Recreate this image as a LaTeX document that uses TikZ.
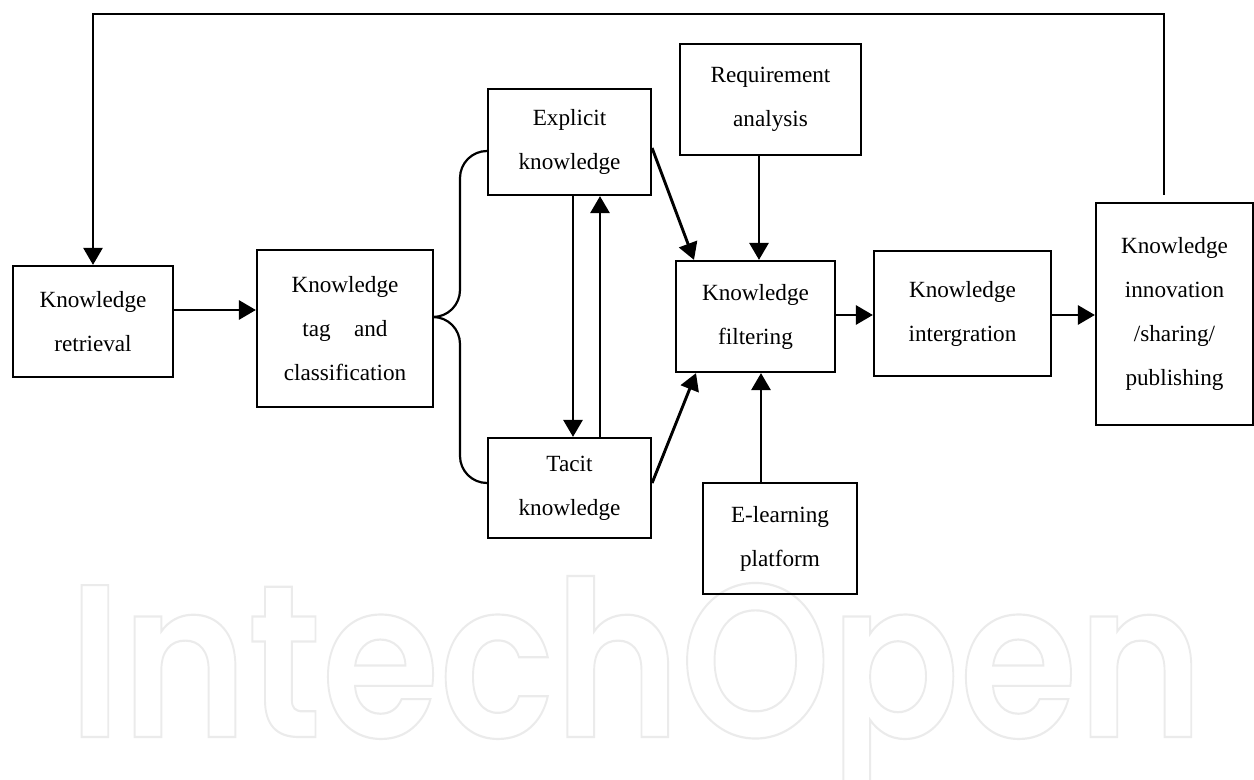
\documentclass[tikz,border=0pt]{standalone}
\usepackage{fontspec}
\setmainfont{Liberation Serif}
\IfFontExistsTF{Poppins SemiBold}
  {\newfontfamily\markfont{Poppins SemiBold}}
  {\IfFontExistsTF{Poppins Medium}
    {\newfontfamily\markfont{Poppins Medium}}
    {\newfontfamily\markfont{Poppins}}}
\usetikzlibrary{arrows.meta}

\tikzset{
  box/.style={draw, line width=1.1pt, inner sep=0pt, align=center,
    font=\fontsize{11.6}{22}\selectfont},
  arr/.style={line width=1.45pt, -{Triangle[length=8.5pt,width=9.5pt]}},
  link/.style={line width=1.1pt, rounded corners=13.5pt},
  feedback/.style={line width=1.3pt, -{Triangle[length=8.5pt,width=9.5pt]}}
}

\begin{document}
\begin{tikzpicture}[x=0.5pt, y=-0.5pt]
  \useasboundingbox (0,0) rectangle (1254,780);

  % outlined publisher mark behind the chart
  \node[anchor=base west, inner sep=0pt, text=black!6] (mark) at (68,737)
    {\resizebox{567.5pt}{80.5pt}{\markfont\fontsize{100}{100}\selectfont
      \special{pdf:literal direct 1 Tr 0.92 G 1.0 w}IntechOpen\special{pdf:literal direct 0 Tr 0 G}}};

  % process boxes
  \node[box, minimum width=80pt,   minimum height=55.5pt] (ret)    at (93,321.5)    {Knowledge\\retrieval};
  \node[box, minimum width=88pt,   minimum height=78.5pt] (tag)    at (345,328.5)   {Knowledge\\tag\quad and\\classification};
  \node[box, minimum width=81.5pt, minimum height=53pt]   (expl)   at (569.5,142)   {Explicit\\knowledge};
  \node[box, minimum width=81.5pt, minimum height=50pt]   (tacit)  at (569.5,488)   {Tacit\\knowledge};
  \node[box, minimum width=90.5pt, minimum height=55.5pt] (req)    at (770.5,99.5)  {Requirement\\analysis};
  \node[box, minimum width=79.5pt, minimum height=55.5pt] (filt)   at (755.5,316.5) {Knowledge\\filtering};
  \node[box, minimum width=77pt,   minimum height=55.5pt] (elearn) at (780,538.5)   {E-learning\\platform};
  \node[box, minimum width=88.5pt, minimum height=62.5pt] (integ)  at (962.5,313.5) {Knowledge\\intergration};
  \node[box, minimum width=78.5pt, minimum height=111pt]  (innov)  at (1174.5,314)  {Knowledge\\innovation\\/sharing/\\publishing};

  % helper positions for connectors
  \coordinate (yrt) at (0,310);
  \coordinate (yb)  at (0,317);
  \coordinate (bt)  at (460,151);
  \coordinate (bb)  at (460,483);
  \coordinate (xdn) at (573,0);
  \coordinate (xup) at (600,0);
  \coordinate (ye)  at (0,148);
  \coordinate (yt)  at (0,483);
  \coordinate (xf1) at (694,0);
  \coordinate (xf2) at (696,0);
  \coordinate (xr)  at (759,0);
  \coordinate (xl)  at (761,0);
  \coordinate (yh)  at (0,315);
  \coordinate (fbstart) at (1164,195);
  \coordinate (fbturn)  at (93,14);

  % connectors
  \draw[arr] (ret.east |- yrt) -- (tag.west |- yrt);
  \draw[link] (tag.east |- yb) -| (bt) -- (expl.west |- bt);
  \draw[link] (tag.east |- yb) -| (bb) -- (tacit.west |- bb);
  \draw[arr] (expl.south -| xdn) -- (tacit.north -| xdn);
  \draw[arr] (tacit.north -| xup) -- (expl.south -| xup);
  \draw[arr] (expl.east |- ye) -- (filt.north -| xf1);
  \draw[arr] (tacit.east |- yt) -- (filt.south -| xf2);
  \draw[arr] (req.south -| xr) -- (filt.north -| xr);
  \draw[arr] (elearn.north -| xl) -- (filt.south -| xl);
  \draw[arr] (filt.east |- yh) -- (integ.west |- yh);
  \draw[arr] (integ.east |- yh) -- (innov.west |- yh);
  \draw[feedback] (fbstart) |- (fbturn) -- (ret.north);
\end{tikzpicture}
\end{document}
